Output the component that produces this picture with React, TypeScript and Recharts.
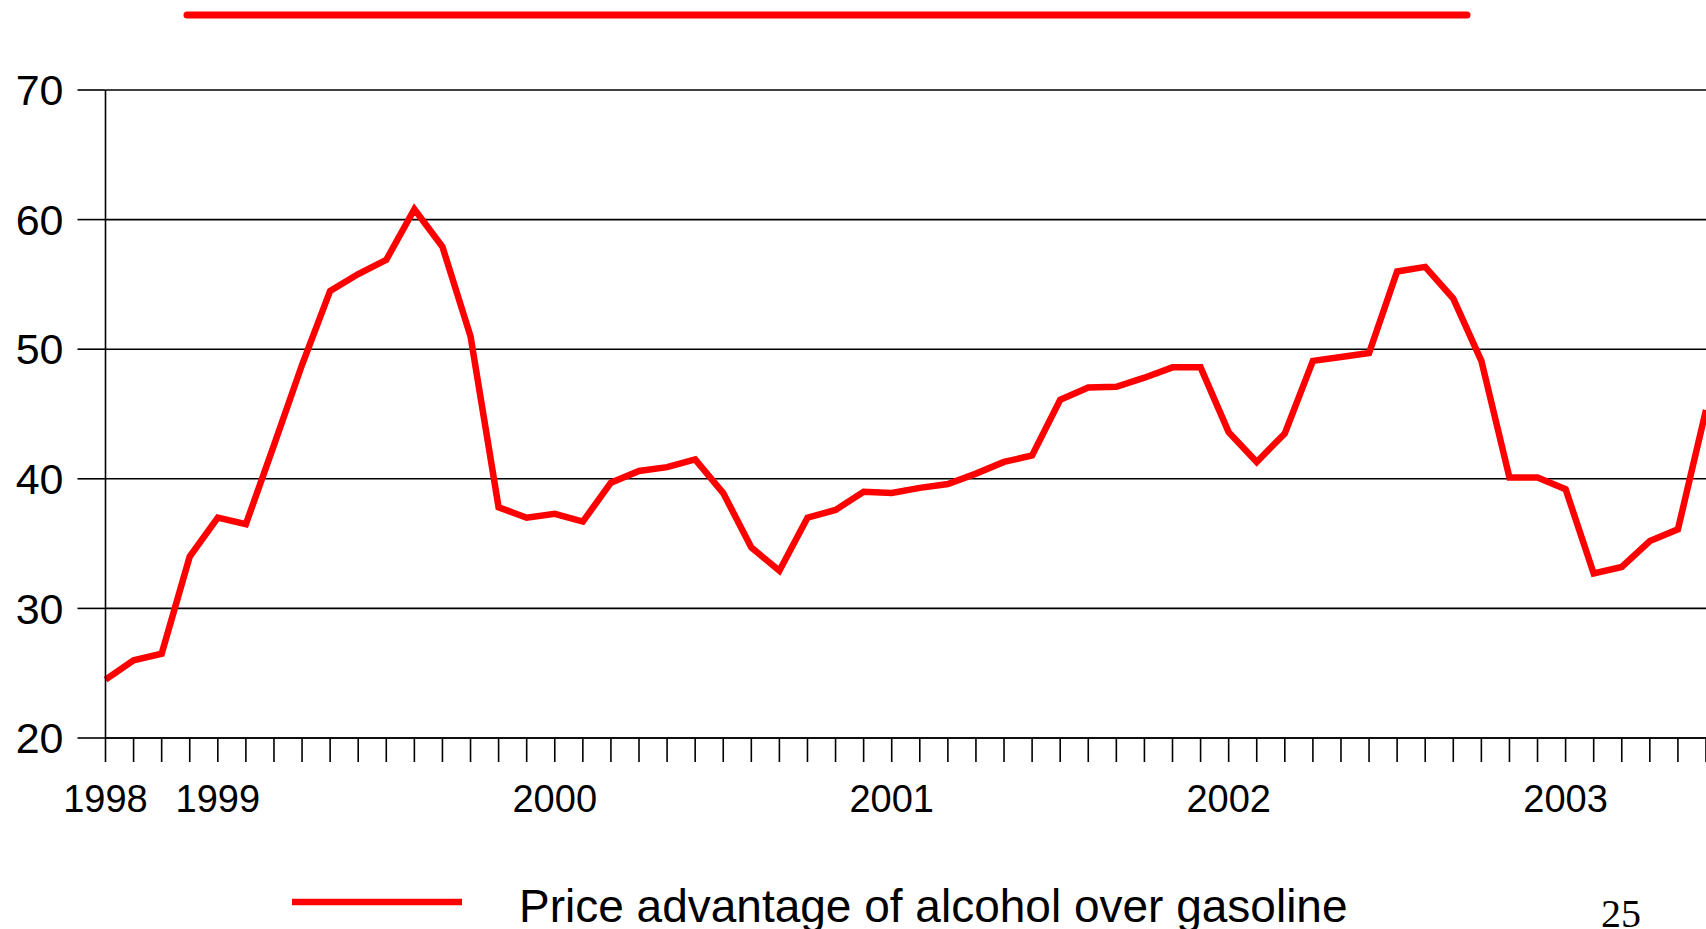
import React from 'react';
import { LineChart, Line, XAxis, YAxis, CartesianGrid } from 'recharts';

// monthly values, Sep 1998 .. Jun 2003
const VALUES = [
  24.5, 26.0, 26.5, 34.0,
  37.0, 36.5, 42.6, 48.8, 54.5, 55.8, 56.9, 60.8, 57.9, 51.0, 37.8, 37.0,
  37.3, 36.7, 39.7, 40.6, 40.9, 41.5, 38.9, 34.7, 32.9, 37.0, 37.6, 39.0,
  38.9, 39.3, 39.6, 40.4, 41.3, 41.8, 46.1, 47.05, 47.1, 47.8, 48.6, 48.6,
  43.6, 41.3, 43.5, 49.1, 49.4, 49.7, 56.0, 56.35, 53.9, 49.1, 40.1, 40.1,
  39.2, 32.7, 33.2, 35.2, 36.1, 45.3,
];

const YEAR_LABELS: Record<number, string> = {
  0: '1998',
  4: '1999',
  16: '2000',
  28: '2001',
  40: '2002',
  52: '2003',
};

const Y_TICKS = [20, 30, 40, 50, 60, 70];
const SERIES_NAME = 'Price advantage of alcohol over gasoline';
const PAGE_NO = '25';

const data = VALUES.map((v, i) => ({ i, v }));
const monthTicks = data.map((d) => d.i);

const FONT = '"Liberation Sans", Arial, sans-serif';

const YearTick = (props: any) => {
  const { x, payload } = props;
  const label = YEAR_LABELS[payload.value];
  if (!label) return <g />;
  return (
    <text x={x} y={812} textAnchor="middle" fontSize={38} fontFamily={FONT} fill="#000">
      {label}
    </text>
  );
};

export default function App() {
  return (
    <div style={{ position: 'absolute', left: 0, top: 0, width: 1706, height: 929, overflow: 'hidden', background: '#fff' }}>
      <LineChart width={1706} height={929} data={data} margin={{ top: 90, right: 0, bottom: 0, left: 0 }}>
        <CartesianGrid vertical={false} stroke="#000" strokeWidth={1.6} />
        <XAxis
          dataKey="i"
          type="number"
          domain={[0, VALUES.length - 1]}
          ticks={monthTicks}
          interval={0}
          height={191}
          tickSize={24}
          axisLine={{ stroke: '#000', strokeWidth: 1.6 }}
          tickLine={{ stroke: '#000', strokeWidth: 1.6 }}
          tick={<YearTick />}
        />
        <YAxis
          type="number"
          domain={[20, 70]}
          ticks={Y_TICKS}
          width={105.5}
          tickSize={28}
          tickMargin={14}
          axisLine={{ stroke: '#000', strokeWidth: 1.6 }}
          tickLine={{ stroke: '#000', strokeWidth: 1.6 }}
          tick={{ fontSize: 43, fill: '#000', fontFamily: FONT }}
        />
        <Line
          type="linear"
          dataKey="v"
          stroke="#ff0000"
          strokeWidth={6.5}
          dot={false}
          activeDot={false}
          isAnimationActive={false}
        />
      </LineChart>
      <svg width={1706} height={929} style={{ position: 'absolute', left: 0, top: 0, pointerEvents: 'none' }}>
        <line x1={187} y1={15} x2={1467} y2={15} stroke="#ff0000" strokeWidth={7} strokeLinecap="round" />
        <line x1={292} y1={902} x2={462} y2={902} stroke="#ff0000" strokeWidth={6.5} />
        <text x={519} y={922} fontSize={46} fontFamily={FONT} fill="#000">
          {SERIES_NAME}
        </text>
        <text x={1601} y={927} fontSize={40} fontFamily='"Liberation Serif", "Times New Roman", serif' fill="#000">
          {PAGE_NO}
        </text>
      </svg>
    </div>
  );
}
